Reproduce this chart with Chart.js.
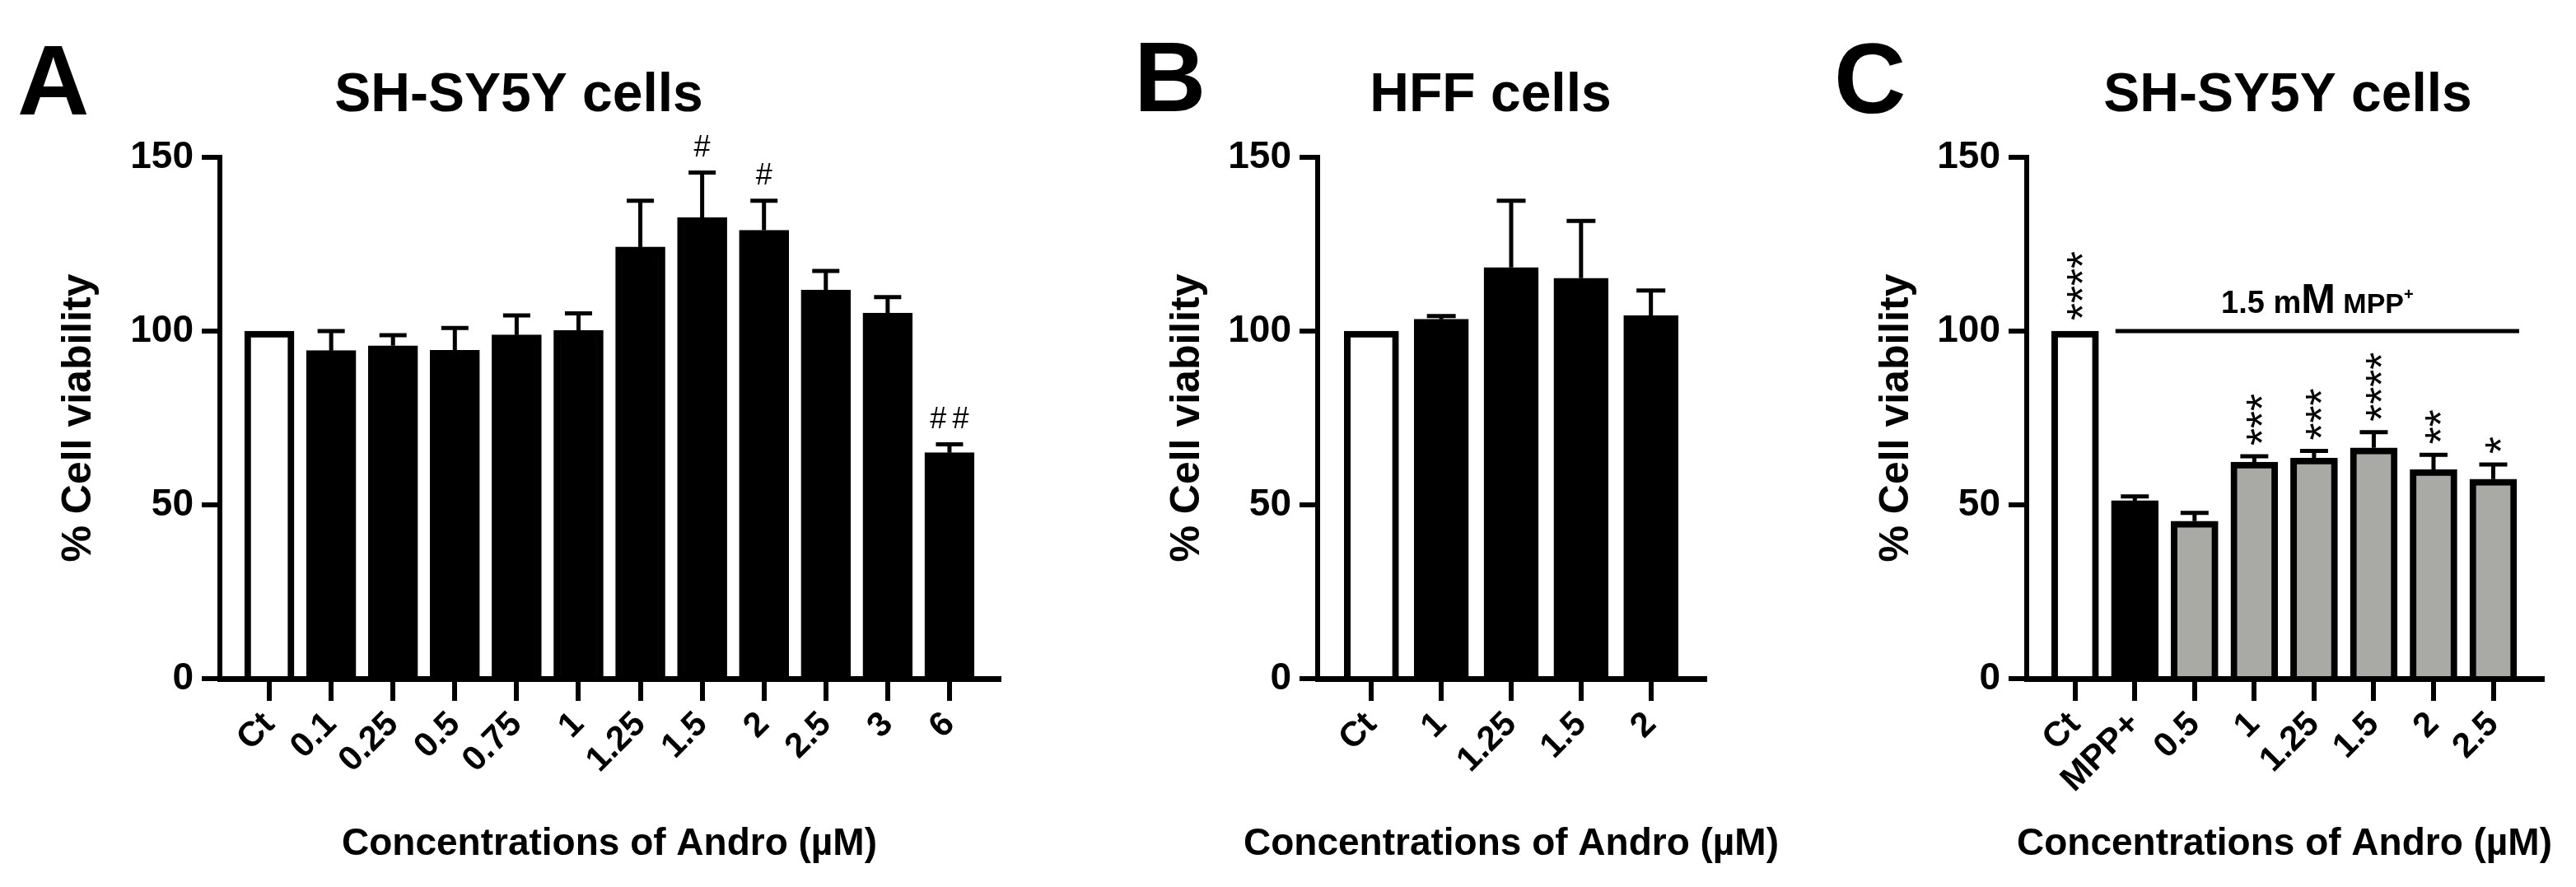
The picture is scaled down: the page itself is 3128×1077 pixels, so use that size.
<!DOCTYPE html>
<html>
<head>
<meta charset="utf-8">
<title>Cell viability after Andro treatment</title>
<script src="https://cdn.jsdelivr.net/npm/chart.js@4.4.1/dist/chart.umd.min.js"></script>
<style>
  html, body { margin: 0; padding: 0; background: #fff; }
  #wrap { position: relative; width: 3128px; height: 1077px; overflow: hidden; background: #fff; }
  canvas { position: absolute; top: 0; }
</style>
</head>
<body>
<div id="wrap">
  <canvas id="chartA" width="1370" height="1077" style="left:0px"></canvas>
  <canvas id="chartB" width="830" height="1077" style="left:1370px"></canvas>
  <canvas id="chartC" width="928" height="1077" style="left:2200px"></canvas>
</div>
<script>
var FONT = '"Liberation Sans", Arial, Helvetica, sans-serif';
var WHITE = '#ffffff', BLACK = '#000000', GRAY = '#a9aaa6';

// A: SH-SY5Y cells, Andro alone
var labelsA = ['Ct', '0.1', '0.25', '0.5', '0.75', '1', '1.25', '1.5', '2', '2.5', '3', '6'];
var meansA = [100, 94.4, 95.8, 94.5, 98.9, 100.2, 124.2, 132.7, 129.0, 111.8, 105.2, 65.0];
var sdA = [0, 5.6, 3.0, 6.4, 5.6, 4.9, 13.3, 12.9, 8.5, 5.5, 4.6, 2.4];
var marksA = ['', '', '', '', '', '', '', '#', '#', '', '', '#\u2009#'];

// B: HFF cells
var labelsB = ['Ct', '1', '1.25', '1.5', '2'];
var meansB = [100, 103.4, 118.3, 115.2, 104.5];
var sdB = [0, 0.9, 19.2, 16.5, 7.2];

// C: SH-SY5Y cells + 1.5 mM MPP+
var labelsC = ['Ct', 'MPP+', '0.5', '1', '1.25', '1.5', '2', '2.5'];
var meansC = [100, 51.2, 45.3, 62.3, 63.5, 66.4, 60.2, 57.4];
var sdC = [0, 1.2, 2.4, 1.7, 2.0, 4.5, 4.2, 4.2];
var starsC = ['****', '', '', '***', '***', '****', '**', '*'];

var yTicks = [0, 50, 100, 150];
var xTitle = 'Concentrations of Andro (\u00b5M)';
var yTitle = '% Cell viability';

var AXIS_TOP = 191, AXIS_BOTTOM = 824, HEIGHT = 1077;

Chart.defaults.font.family = FONT;
Chart.defaults.color = '#000';

function errorBars(sd, capWidth) {
  return {
    id: 'errorBars',
    afterDatasetsDraw: function(chart) {
      var ctx = chart.ctx, y = chart.scales.y;
      var pts = chart.data.datasets[0].data;
      ctx.save();
      ctx.strokeStyle = BLACK;
      ctx.lineWidth = 5;
      chart.getDatasetMeta(0).data.forEach(function(bar, i) {
        if (!sd[i]) return;
        var top = y.getPixelForValue(pts[i].y + sd[i]);
        ctx.beginPath();
        ctx.moveTo(bar.x, bar.y);
        ctx.lineTo(bar.x, top);
        ctx.moveTo(bar.x - capWidth / 2, top);
        ctx.lineTo(bar.x + capWidth / 2, top);
        ctx.stroke();
      });
      ctx.restore();
    }
  };
}

function topOf(chart, sd, i) {
  var pts = chart.data.datasets[0].data;
  return chart.scales.y.getPixelForValue(pts[i].y + sd[i]);
}

// letter, titles, and significance marks
function panelText(p) {
  return {
    id: 'panelText',
    afterDraw: function(chart) {
      var ctx = chart.ctx;
      var area = chart.chartArea;
      var meta = chart.getDatasetMeta(0);
      ctx.save();
      ctx.fillStyle = BLACK;
      ctx.textBaseline = 'alphabetic';
      ctx.textAlign = 'left';
      ctx.font = 'bold 121px ' + FONT;
      ctx.fillText(p.letter, p.letterX, p.letterY);
      ctx.textAlign = 'center';
      ctx.font = 'bold 66px ' + FONT;
      ctx.fillText(p.title, p.titleX, 135);
      // x title drawn here so the narrow B panel does not squeeze it
      ctx.font = 'bold 46px ' + FONT;
      ctx.fillText(xTitle, (area.left + area.right) / 2, 1038);

      if (p.hashes) {
        ctx.font = '36px ' + FONT;
        p.hashes.forEach(function(h, i) {
          if (!h) return;
          ctx.fillText(h, meta.data[i].x, topOf(chart, p.sd, i) - 20);
        });
      }

      if (p.stars) {
        ctx.font = '54px ' + FONT;
        var m = ctx.measureText('*');
        var shift = (m.actualBoundingBoxAscent - m.actualBoundingBoxDescent) / 2;
        ctx.textAlign = 'left';
        p.stars.forEach(function(s, i) {
          if (!s) return;
          ctx.save();
          ctx.translate(meta.data[i].x + shift, topOf(chart, p.sd, i) - 13);
          ctx.rotate(-Math.PI / 2);
          ctx.fillText(s, 0, 0);
          ctx.restore();
        });
      }

      if (p.bracket) {
        var first = meta.data[p.bracket.from], last = meta.data[p.bracket.to];
        var x1 = first.x - first.width / 2 + 5, x2 = last.x + last.width / 2 + 3;
        var ly = chart.scales.y.getPixelForValue(p.bracket.value);
        ctx.strokeStyle = BLACK;
        ctx.lineWidth = 5;
        ctx.beginPath();
        ctx.moveTo(x1, ly);
        ctx.lineTo(x2, ly);
        ctx.stroke();

        var parts = [
          { t: '1.5 m', size: 38, rise: 0 },
          { t: 'M', size: 50, rise: 0 },
          { t: ' MPP', size: 34, rise: 0 },
          { t: '+', size: 20, rise: 16 }
        ];
        var total = 0;
        parts.forEach(function(q) {
          ctx.font = 'bold ' + q.size + 'px ' + FONT;
          q.w = ctx.measureText(q.t).width;
          total += q.w;
        });
        var cx = (x1 + x2) / 2 - total / 2;
        ctx.textAlign = 'left';
        parts.forEach(function(q) {
          ctx.font = 'bold ' + q.size + 'px ' + FONT;
          ctx.fillText(q.t, cx, ly - 22 - q.rise);
          cx += q.w;
        });
      }
      ctx.restore();
    }
  };
}

function makeChart(p) {
  var points = p.means.map(function(v, i) { return { x: i, y: v }; });
  return new Chart(document.getElementById(p.canvas), {
    type: 'bar',
    data: {
      datasets: [{
        data: points,
        backgroundColor: p.fill,
        borderColor: BLACK,
        borderWidth: 8,
        barThickness: p.barWidth
      }]
    },
    options: {
      responsive: false,
      animation: false,
      devicePixelRatio: 1,
      layout: { padding: { left: 0, right: p.right, top: AXIS_TOP, bottom: 0 } },
      plugins: { legend: { display: false }, tooltip: { enabled: false } },
      scales: {
        x: {
          type: 'linear',
          min: p.xmin,
          max: p.xmax,
          offset: false,
          z: 1,
          grid: { display: true, offset: false, drawOnChartArea: false, drawTicks: true,
                  tickLength: 27, tickWidth: 6, tickColor: BLACK, color: BLACK, lineWidth: 6 },
          border: { display: true, color: BLACK, width: 7 },
          afterBuildTicks: function(s) {
            s.ticks = p.labels.map(function(l, i) { return { value: i }; });
          },
          afterFit: function(s) { s.height = HEIGHT - AXIS_BOTTOM; },
          ticks: {
            autoSkip: false, minRotation: 45, maxRotation: 45, padding: 4, color: BLACK,
            font: { family: FONT, size: 42, weight: 'bold' },
            callback: function(v) { return p.labels[v]; }
          },
          title: { display: false }
        },
        y: {
          min: 0,
          max: 150,
          grid: { display: true, drawOnChartArea: false, drawTicks: true,
                  tickLength: 22, tickWidth: 6, tickColor: BLACK, color: BLACK, lineWidth: 6 },
          border: { display: true, color: BLACK, width: 6 },
          afterBuildTicks: function(s) {
            s.ticks = yTicks.map(function(v) { return { value: v }; });
          },
          afterFit: function(s) { s.width = p.axisLeft; },
          ticks: { padding: 10, color: BLACK, font: { family: FONT, size: 46, weight: 'bold' } },
          title: { display: true, text: yTitle, color: BLACK,
                   font: { family: FONT, size: 50, weight: 'bold' }, padding: { top: p.yTitlePad, bottom: 0 } }
        }
      }
    },
    plugins: [errorBars(p.sd, p.cap), panelText(p)]
  });
}

makeChart({
  canvas: 'chartA', labels: labelsA, means: meansA, sd: sdA, hashes: marksA,
  fill: function(c) { return c.dataIndex === 0 ? WHITE : BLACK; },
  axisLeft: 267, right: 157, xmin: -0.8, xmax: 11.8, barWidth: 60, cap: 33, yTitlePad: 66,
  letter: 'A', letterX: 21, letterY: 139, title: 'SH-SY5Y cells', titleX: 630
});

makeChart({
  canvas: 'chartB', labels: labelsB, means: meansB, sd: sdB,
  fill: function(c) { return c.dataIndex === 0 ? WHITE : BLACK; },
  axisLeft: 230, right: 130, xmin: -0.77, xmax: 4.77, barWidth: 66, cap: 35, yTitlePad: 42,
  letter: 'B', letterX: 7, letterY: 135, title: 'HFF cells', titleX: 440
});

makeChart({
  canvas: 'chartC', labels: labelsC, means: meansC, sd: sdC, stars: starsC,
  bracket: { from: 1, to: 7, value: 100 },
  fill: function(c) { return c.dataIndex === 0 ? WHITE : (c.dataIndex === 1 ? BLACK : GRAY); },
  axisLeft: 261, right: 41, xmin: -0.81, xmax: 7.82, barWidth: 57, cap: 34, yTitlePad: 73,
  letter: 'C', letterX: 27, letterY: 137, title: 'SH-SY5Y cells', titleX: 578
});
</script>
</body>
</html>
